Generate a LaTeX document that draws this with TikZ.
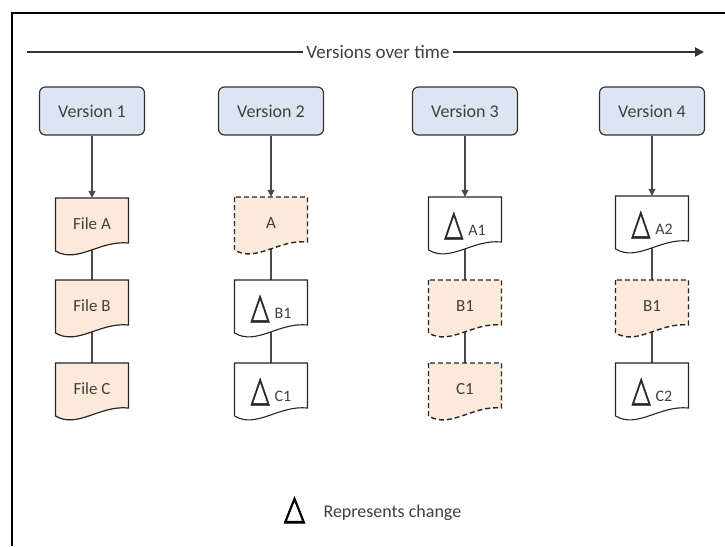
\documentclass[tikz,border=0pt]{standalone}
\usepackage{graphicx}
\usepackage{fontspec}
\setmainfont{Carlito}
\newfontfamily\trifont[FakeBold=1.5]{DejaVu Sans}
\newfontfamily\trifontb[FakeBold=2.5]{DejaVu Sans}
\usetikzlibrary{arrows.meta,calc,backgrounds}

\definecolor{verfill}{HTML}{DCE6F2}
\definecolor{docfill}{HTML}{FCE9DA}
\definecolor{linegray}{HTML}{4A4A4A}
\definecolor{textgray}{HTML}{404040}

% tall triangle in front of a changed file
\newcommand{\dlt}[1]{\raisebox{-7pt}{\resizebox{19pt}{23pt}{\trifont\fontsize{20}{20}\selectfont\color{black!85}△}\hspace{5pt}{\fontsize{16}{19}\selectfont #1}}}

\tikzset{
  version/.style={draw=black!80, fill=verfill, rounded corners=6pt, line width=1.2pt,
    minimum width=105pt, minimum height=48pt, font=\fontsize{18}{21}\selectfont, text=textgray},
  doc/.style={minimum width=73pt, minimum height=46pt, inner sep=0pt, text height=16pt,
    text depth=0pt, font=\fontsize{17}{20}\selectfont, text=textgray},
  orig/.style={draw=black!85, fill=docfill, line width=1.2pt},
  same/.style={draw=black!85, fill=docfill, dash pattern=on 5pt off 3pt, line width=1.4pt},
  chg/.style={draw=black!85, fill=white, line width=1.1pt},
  link/.style={draw=linegray, line width=1.2pt},
  axis/.style={draw=black!80, line width=1.8pt},
}

\begin{document}
\begin{tikzpicture}[x=1pt,y=-1pt]
    \useasboundingbox (0,0) rectangle (725,546);
    \draw [line width=1.5pt] (12,546) -- (12,13) -- (725,13);
    % time line
    \node [font=\fontsize{19}{22}\selectfont, text=textgray, inner sep=3pt] (ttl) at (378,52) {Versions over time};
    \coordinate (tl) at (27,52);
    \coordinate (tr) at (704,52);
    \draw [axis] (tl) -- (ttl);
    \draw [axis, -{Triangle[width=9pt,length=9pt]}] (ttl) -- (tr);
    % versions
    \foreach \n/\x/\t in {v1/92/Version 1,v2/271/Version 2,v3/465/Version 3,v4/652/Version 4}
        \node [version] (\n) at (\x,111) {\t};
    % files
    \foreach \n/\x/\y/\s/\t in {v1a/92/198/orig/File A,v1b/92/280/orig/File B,v1c/92/363/orig/File C,
                               v2a/271/197/same/A,v2b/271/280/chg/\dlt{B1},v2c/271/363/chg/\dlt{C1},
                               v3a/465/197/chg/\dlt{A1},v3b/465/280/same/B1,v3c/465/363/same/C1,
                               v4a/652/196/chg/\dlt{A2},v4b/652/280/same/B1,v4c/652/363/chg/\dlt{C2}}
    {
        \draw [\s] (\x-36.5,\y) -- (\x-36.5,\y+53) .. controls (\x-14.5,\y+66) and (\x+7.5,\y+42) .. (\x+36.5,\y+45) -- (\x+36.5,\y) -- cycle;
        \node [doc] (\n) at (\x,\y+23) {\t};
    }
    \foreach \v in {1,...,4}
        \draw [link, -{Triangle[width=7pt,length=7pt]}] (v\v) -- (v\v a);
    \begin{pgfonlayer}{background}
    \foreach \v in {1,...,4}
    {
        \draw [link] (v\v a) -- (v\v b);
        \draw [link] (v\v b) -- (v\v c);
    }
    \end{pgfonlayer}
    % legend
    \node [inner sep=0pt] (lgd) at (294.5,510) {\resizebox{21pt}{22pt}{\trifontb\fontsize{20}{20}\selectfont △}};
    \node [anchor=west, font=\fontsize{18}{21}\selectfont, text=textgray] (lgdtxt) at (320,513) {Represents change};
\end{tikzpicture}
\end{document}
